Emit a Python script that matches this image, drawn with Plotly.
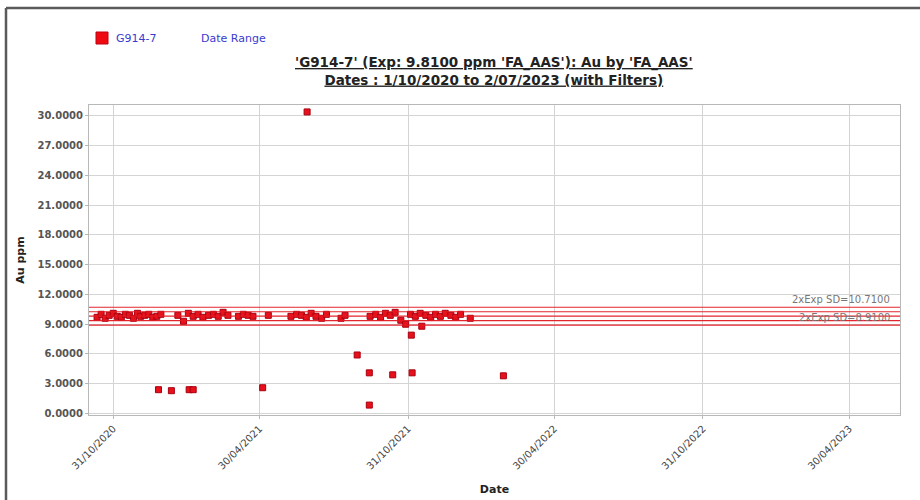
import plotly.graph_objects as go

# ---- data ----
band_dates = [
    "2020-10-11", "2020-10-16", "2020-10-21", "2020-10-26", "2020-10-31", "2020-11-05",
    "2020-11-10", "2020-11-15", "2020-11-20", "2020-11-25", "2020-11-30", "2020-12-04",
    "2020-12-09", "2020-12-14", "2020-12-19", "2020-12-24", "2020-12-29",
    "2021-01-19", "2021-01-26", "2021-02-01", "2021-02-07", "2021-02-13", "2021-02-19",
    "2021-02-26", "2021-03-04", "2021-03-10", "2021-03-16", "2021-03-22",
    "2021-04-04", "2021-04-10", "2021-04-16", "2021-04-22", "2021-05-11",
    "2021-06-08", "2021-06-15", "2021-06-21", "2021-06-27", "2021-07-03", "2021-07-09",
    "2021-07-16", "2021-07-22", "2021-08-09", "2021-08-14",
    "2021-09-14", "2021-09-21", "2021-09-27", "2021-10-03", "2021-10-09", "2021-10-15",
    "2021-10-22", "2021-10-28", "2021-11-03", "2021-11-09", "2021-11-15", "2021-11-22",
    "2021-11-28", "2021-12-04", "2021-12-10", "2021-12-16", "2021-12-23", "2021-12-29",
    "2022-01-04", "2022-01-16",
]
band_values = [
    9.7, 10.0, 9.6, 9.9, 10.1, 9.8, 9.7, 10.0, 9.9, 9.6, 10.1, 9.8, 9.9, 10.0, 9.7, 9.8, 10.0,
    9.9, 9.3, 10.1, 9.8, 10.0, 9.7, 9.9, 10.0, 9.8, 10.2, 9.9,
    9.8, 10.0, 9.9, 9.8, 9.9,
    9.8, 10.0, 9.9, 9.7, 10.1, 9.8, 9.6, 10.0, 9.6, 9.9,
    9.8, 10.0, 9.7, 10.1, 9.9, 10.2, 9.4, 9.0, 10.0, 9.8, 10.1, 9.9,
    9.7, 10.0, 9.8, 10.1, 9.9, 9.7, 10.0, 9.6,
]
outlier_dates = [
    "2020-12-26", "2021-01-11", "2021-02-02", "2021-02-07", "2021-05-04",
    "2021-06-28", "2021-08-29", "2021-09-13", "2021-09-13", "2021-10-12",
    "2021-11-04", "2021-11-05", "2021-11-17", "2022-02-26",
]
outlier_values = [
    2.4, 2.3, 2.4, 2.4, 2.6,
    30.4, 5.9, 4.1, 0.85, 3.9,
    7.9, 4.1, 8.8, 3.8,
]

expected = 9.81
limit_values = [10.71, 10.26, 9.81, 9.36, 8.91]
limit_labels = {10.71: "2xExp SD=10.7100", 8.91: "2xExp SD=8.9100"}

tick_dates = ["2020-10-31", "2021-04-30", "2021-10-31", "2022-04-30", "2022-10-31", "2023-04-30"]
tick_text = ["31/10/2020", "30/04/2021", "31/10/2021", "30/04/2022", "31/10/2022", "30/04/2023"]
y_ticks = [0, 3, 6, 9, 12, 15, 18, 21, 24, 27, 30]
y_tick_text = [f"{v:.4f}" for v in y_ticks]

x_range = ["2020-10-01", "2023-07-02"]
y_range = [-0.15, 31.1]

all_dates = band_dates + outlier_dates
all_values = band_values + outlier_values

# plot-area pixel geometry helpers (for decorations only)
L, R, T, B = 89, 900, 105, 415
def px(x):
    return (x - L) / (R - L)
def py(y):
    return (B - y) / (B - T)

fig = go.Figure()
fig.add_trace(go.Scatter(
    x=all_dates, y=all_values, mode="markers", name="G914-7",
    marker=dict(symbol="square", size=6, color="#e8101a",
                line=dict(color="#a80010", width=1)),
    showlegend=False,
))

# limit lines
for v in limit_values:
    fig.add_shape(type="line", xref="paper", x0=0, x1=1, yref="y", y0=v, y1=v,
                  line=dict(color="rgba(225,25,35,0.95)", width=1.2), layer="above")
for v, t in limit_labels.items():
    fig.add_annotation(xref="paper", x=0.99, y=v, yref="y", text=t, showarrow=False,
                       xanchor="right", yanchor="bottom",
                       font=dict(family="DejaVu Sans", size=10, color="#777777"))

# title
fig.add_annotation(
    xref="paper", yref="paper", x=px(494), y=py(71),
    xanchor="center", yanchor="middle", showarrow=False,
    text="<u>'G914-7' (Exp: 9.8100 ppm 'FA_AAS'): Au by 'FA_AAS'</u><br><u>Dates : 1/10/2020 to 2/07/2023 (with Filters)</u>",
    font=dict(family="DejaVu Sans", size=13.5, color="#222222", weight="bold"),
)
# legend (drawn manually)
fig.add_shape(type="rect", xref="paper", yref="paper",
              x0=px(96), x1=px(108), y0=py(44), y1=py(32),
              fillcolor="#ee0a10", line=dict(color="#c00010", width=1))
fig.add_annotation(
    xref="paper", yref="paper", x=px(114), y=py(38),
    xanchor="left", yanchor="middle", showarrow=False, text="G914-7",
    font=dict(family="DejaVu Sans", size=11, color="#3a3ad0"),
)
fig.add_annotation(
    xref="paper", yref="paper", x=px(199), y=py(38),
    xanchor="left", yanchor="middle", showarrow=False, text="Date Range",
    font=dict(family="DejaVu Sans", size=11, color="#3a3ad0"),
)

# outer frame (top and left edges)
fig.add_shape(type="line", xref="paper", yref="paper",
              x0=px(6), x1=px(925), y0=py(8), y1=py(8),
              line=dict(color="#5a5a5a", width=2.5))
fig.add_shape(type="line", xref="paper", yref="paper",
              x0=px(6), x1=px(6), y0=py(8), y1=py(505),
              line=dict(color="#5a5a5a", width=2.5))

fig.update_layout(
    width=920, height=500,
    margin=dict(l=L, r=920 - R, t=T, b=500 - B),
    paper_bgcolor="white", plot_bgcolor="white",
    showlegend=False,
    xaxis=dict(
        type="date", range=x_range, tickmode="array", tickvals=tick_dates, ticktext=tick_text,
        tickangle=-45, showgrid=True, gridcolor="#d4d4d4", gridwidth=1,
        showline=True, linecolor="#b8b8b8", mirror=True, ticks="outside", ticklen=3,
        tickcolor="#b8b8b8", zeroline=False, automargin=False,
        tickfont=dict(family="DejaVu Sans", size=10, color="#444444"),
        title=dict(text="Date", font=dict(family="DejaVu Sans", size=11, color="#222222", weight="bold"),
                   standoff=14),
    ),
    yaxis=dict(
        range=y_range, tickmode="array", tickvals=y_ticks, ticktext=y_tick_text,
        showgrid=True, gridcolor="#d4d4d4", gridwidth=1,
        showline=True, linecolor="#b8b8b8", mirror=True, ticks="outside", ticklen=3,
        tickcolor="#b8b8b8", zeroline=False, automargin=False,
        tickfont=dict(family="DejaVu Sans", size=10, color="#555555", weight="bold"),
        title=dict(text="Au ppm", font=dict(family="DejaVu Sans", size=11, color="#222222", weight="bold"),
                   standoff=10),
    ),
)

fig.write_html("out.html", config={"displayModeBar": False},
               post_script="document.body.style.margin='0px';")
